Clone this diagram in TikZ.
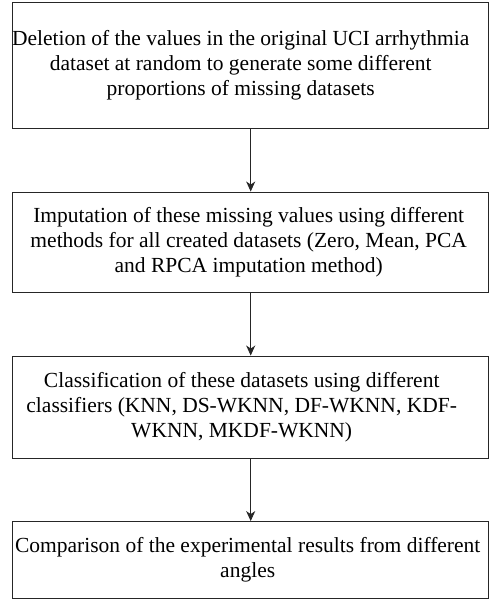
\documentclass[tikz,border=0pt]{standalone}
\usepackage{fontspec}
\setmainfont{Liberation Serif}
\usepackage{tikz}
\usetikzlibrary{arrows.meta}

\begin{document}
\begin{tikzpicture}[x=1pt,y=-1pt,
       stage/.style={draw=black!85, line width=0.9pt, rectangle, inner sep=0pt,
              minimum width=476pt},
       stagetext/.style={inner sep=0pt, align=center,
              font=\fontsize{21.5}{24.8}\selectfont},
       flow/.style={draw=black!85, line width=0.9pt, -{Stealth[length=10pt,width=9pt,inset=3pt]}}]
       \useasboundingbox (0,0) rectangle (490,601);
       
       \node[stage, minimum height=126pt] (del) at (250.7,65) {};
       \node[stagetext] (deltext) at (240.7,65)
              {Deletion of the values in the original UCI arrhythmia\\
               dataset at random to generate some different\\
               proportions of missing datasets};
       
       \node[stage, minimum height=100pt] (imp) at (250.7,242) {};
       \node[stagetext] (imptext) at (248.7,242)
              {Imputation of these missing values using different\\
               methods for all created datasets (Zero, Mean, PCA\\
               and RPCA imputation method)};
       
       \node[stage, minimum height=102pt] (cla) at (250.7,407) {};
       \node[stagetext] (clatext) at (241.7,407)
              {Classification of these datasets using different\\
               classifiers (KNN, DS-WKNN, DF-WKNN, KDF-\\
               WKNN, MKDF-WKNN)};
       
       \node[stage, minimum height=76.5pt] (cmp) at (250.7,559.8) {};
       \node[stagetext] (cmptext) at (247.7,559.8)
              {Comparison of the experimental results from different\\
               angles};
       
       \draw[flow] (del) -- (imp);
       \draw[flow] (imp) -- (cla);
       \draw[flow] (cla) -- (cmp);
\end{tikzpicture}
\end{document}
